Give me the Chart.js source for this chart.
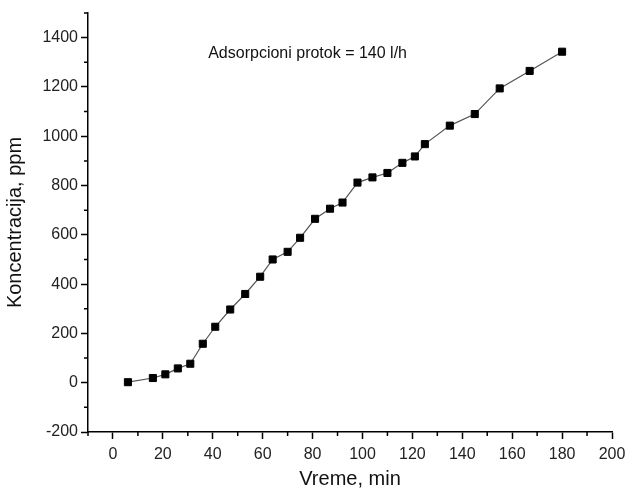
<!DOCTYPE html>
<html>
<head>
<meta charset="utf-8">
<script src="https://cdn.jsdelivr.net/npm/chart.js@4"></script>
<style>
  body { margin: 0; background: #fff; }
  canvas { display: block; }
</style>
</head>
<body>
<canvas id="chart" width="627" height="494"></canvas>
<script>
// vrijeme (min) i koncentracija (ppm) ocitane sa slike
const vreme = [6, 16, 21, 26, 31, 36, 41, 47, 53, 59, 64, 70, 75, 81, 87, 92, 98, 104, 110, 116, 121, 125, 135, 145, 155, 167, 180];
const koncentracija = [2, 19, 34, 58, 77, 158, 227, 297, 360, 430, 500, 531, 588, 665, 706, 731, 812, 833, 851, 892, 918, 968, 1043, 1090, 1194, 1265, 1343];

const xTicks = [0, 20, 40, 60, 80, 100, 120, 140, 160, 180, 200];
const xMinor = [-10, 10, 30, 50, 70, 90, 110, 130, 150, 170, 190];
const yTicks = [-200, 0, 200, 400, 600, 800, 1000, 1200, 1400];
const yMinor = [-100, 100, 300, 500, 700, 900, 1100, 1300, 1500];

const napomena = 'Adsorpcioni protok = 140 l/h';
const napomenaPos = { x: 78, y: 1335 };

const FONT = 'Arial, "Liberation Sans", sans-serif';

const minorTicks = {
    id: 'minorTicks',
    afterDraw(chart) {
        const ctx = chart.ctx;
        const xs = chart.scales.x, ys = chart.scales.y;
        ctx.save();
        ctx.strokeStyle = '#000';
        ctx.lineWidth = 1.5;
        ctx.beginPath();
        xMinor.forEach(v => {
            const px = xs.getPixelForValue(v);
            ctx.moveTo(px, xs.top);
            ctx.lineTo(px, xs.top + 4);
        });
        yMinor.forEach(v => {
            const py = ys.getPixelForValue(v);
            ctx.moveTo(ys.right, py);
            ctx.lineTo(ys.right - 4, py);
        });
        ctx.stroke();

        ctx.fillStyle = '#111';
        ctx.font = '16px ' + FONT;
        ctx.textAlign = 'center';
        ctx.textBaseline = 'middle';
        ctx.fillText(napomena, xs.getPixelForValue(napomenaPos.x), ys.getPixelForValue(napomenaPos.y));
        ctx.restore();
    }
};

new Chart(document.getElementById('chart'), {
    type: 'line',
    data: {
        datasets: [{
            data: vreme.map((v, i) => ({ x: v, y: koncentracija[i] })),
            borderColor: '#555',
            borderWidth: 1.2,
            pointStyle: 'rect',
            pointRadius: 5,
            pointBackgroundColor: '#000',
            pointBorderColor: '#000',
            pointBorderWidth: 1,
            tension: 0
        }]
    },
    options: {
        responsive: false,
        animation: false,
        layout: { padding: { top: 13, right: 15, left: 0, bottom: 0 } },
        plugins: { legend: { display: false }, tooltip: { enabled: false } },
        scales: {
            x: {
                type: 'linear',
                min: -10,
                max: 200,
                afterBuildTicks: s => { s.ticks = xTicks.map(v => ({ value: v })); },
                afterFit: s => { s.height = 62; s.paddingRight = 0; s.paddingLeft = 0; },
                grid: { drawOnChartArea: false, tickLength: 7, tickColor: '#000', tickWidth: 1.5 },
                border: { color: '#000', width: 1.5 },
                ticks: { color: '#222', font: { family: FONT, size: 16 }, padding: 6, maxRotation: 0, callback: v => String(v) },
                title: { display: true, text: 'Vreme, min', color: '#111', font: { family: FONT, size: 20 }, padding: { top: 0, bottom: 3 } }
            },
            y: {
                min: -200,
                max: 1500,
                afterBuildTicks: s => { s.ticks = yTicks.map(v => ({ value: v })); },
                afterFit: s => { s.width = 88; s.paddingTop = 0; s.paddingBottom = 0; },
                grid: { drawOnChartArea: false, tickLength: 7, tickColor: '#000', tickWidth: 1.5 },
                border: { color: '#000', width: 1.5 },
                ticks: { color: '#222', font: { family: FONT, size: 16 }, padding: 3, callback: v => String(v) },
                title: { display: true, text: 'Koncentracija, ppm', color: '#111', font: { family: FONT, size: 20 }, padding: { top: 3, bottom: 0 } }
            }
        }
    },
    plugins: [minorTicks]
});
</script>
</body>
</html>
